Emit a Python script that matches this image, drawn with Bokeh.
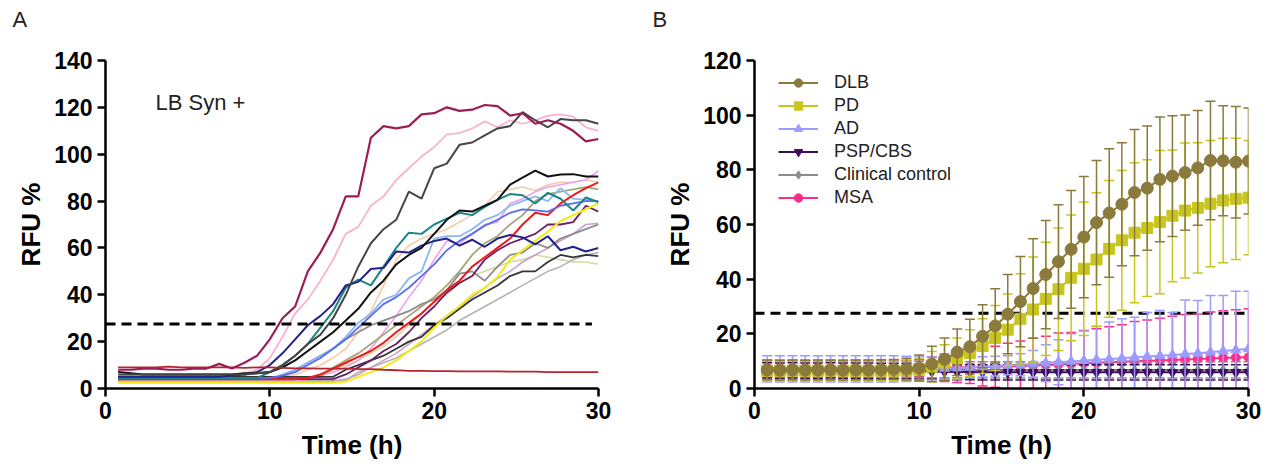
from bokeh.plotting import figure
from bokeh.layouts import row
from bokeh.models import Range1d, Label, Legend, LegendItem, FixedTicker, Title
from bokeh.embed import file_html
from bokeh.resources import INLINE

FONT = "Liberation Sans"

# ---------------- data ----------------
times = [0.77, 1.54, 2.31, 3.08, 3.85, 4.62, 5.38, 6.15, 6.92, 7.69, 8.46, 9.23, 10.0,
         10.77, 11.54, 12.31, 13.08, 13.85, 14.62, 15.38, 16.15, 16.92, 17.69, 18.46,
         19.23, 20.0, 20.77, 21.54, 22.31, 23.08, 23.85, 24.62, 25.38, 26.15, 26.92,
         27.69, 28.46, 29.23, 30.0]

threshold = 27.5
threshold_x_a = [0, 29.6]
threshold_x_b = [0, 29.8]

# Panel A: individual LB Syn + samples (RFU %)
a_crimson = [8, 8, 8.5, 8.5, 8, 8, 8.5, 8.5, 10.5, 8.5, 11, 14, 21, 30, 35, 50, 58, 68, 82, 82,
             107, 112, 111, 112, 117, 117.5, 120, 118.5, 119, 121, 120.5, 116.5, 117.5, 113, 114.5, 113, 110, 105.5, 106.5]
a_pink = [4, 4, 4, 4, 4, 4, 4.5, 4.5, 5, 5.5, 6.5, 8, 13, 22, 32, 38, 46, 55, 66, 69,
          78, 82, 89, 94, 99, 103, 108.5, 109, 111, 114, 111.5, 114.5, 113, 114.5, 116.5, 117, 116, 111.5, 110]
a_darkgray = [6, 6, 6, 6, 6, 6, 6, 6, 6, 6, 6, 6.5, 7, 10, 14, 19, 23, 30, 40, 52,
              62, 68, 72, 84, 81, 94, 96, 104, 105, 108, 111, 112, 118, 114.5, 111.5, 115, 114.5, 114.5, 113]
a_black = [7, 6.5, 6, 6, 6, 6, 6, 6, 6, 6, 6.5, 6.5, 7, 9, 12, 16, 20, 24, 29, 34,
           41, 46, 53, 57, 60, 66, 72, 76, 75.5, 78, 80.5, 87, 90, 93, 90.5, 91.3, 91.5, 90.5, 90.5]
a_navy = [5, 5, 5, 5, 5, 5, 5, 5, 5, 5.5, 6, 7, 10, 15, 21, 27, 31, 36, 44, 45.5,
          51, 51.5, 58.5, 58, 61, 63, 64, 61, 63.5, 60.5, 64, 65.5, 64.5, 61.5, 65, 59, 60.5, 58.5, 60]
a_teal = [4.5, 4.5, 4.5, 4.5, 4.5, 4.5, 4.5, 4.5, 4.5, 4.5, 4.5, 4.5, 7, 10, 14, 19, 26, 33, 43, 46.5,
          44, 52, 60, 66.5, 66, 70, 72.5, 75, 74, 77.5, 80.5, 83, 82.5, 79, 83.5, 81, 76, 81.5, 79.5]
a_lightblue = [4, 4, 4, 4, 4, 4, 4, 4, 4, 4, 4, 4, 4, 6, 8, 11, 14, 17, 22, 28,
               32, 38, 40, 47, 50, 64, 65, 65, 68, 72, 74, 78, 80, 82, 80, 85.5, 81, 80.5, 80]
a_medblue = [4.5, 4.5, 4.5, 4.5, 4.5, 4.5, 4.5, 4.5, 4.5, 4.5, 4.5, 4.5, 4.5, 5.5, 7, 10, 13, 17, 21, 26,
             31, 36, 39, 43, 48, 53, 59, 63, 66, 69.5, 72, 75, 76.5, 76, 75.5, 78, 79, 80, 80]
a_peach = [5, 5, 5, 5, 5, 5, 5, 5, 5, 5, 5, 5, 5, 5, 6, 8, 10, 13, 17, 24,
           33, 44, 55, 61, 64, 66, 68, 71, 74, 78, 84, 85, 86, 84.5, 87, 88, 88, 89, 88]
a_violet = [3, 3, 3, 3, 3, 3, 3, 3, 3, 3, 3, 3, 3, 3, 3, 4, 5.5, 7, 9, 12,
            17, 24, 31, 39, 46, 55, 63, 62, 66, 70, 71, 79, 81, 84, 86, 87, 88, 89, 93]
a_red = [4, 4, 4, 4, 4, 4, 4, 4, 4, 4, 4, 4, 4, 4, 4, 4.5, 6, 8.5, 11, 13.5,
         16, 19.5, 24, 28, 32, 37, 42, 46, 52, 56, 60, 64, 70, 75, 74, 79, 82.5, 85.5, 88]
a_yellow = [2.5, 2.5, 2.5, 2.5, 2.5, 2.5, 2.5, 2.5, 2.5, 2.5, 2.5, 2.5, 2.5, 2.5, 2.5, 2.5, 2.5, 2.5, 3, 5,
            7, 9, 12, 16, 20, 26, 31, 35, 40, 43, 47.5, 55, 59, 63, 67, 71.5, 74, 76.5, 79]
a_purple = [4, 4, 4, 4, 4, 4, 4, 4, 4, 4, 4, 4, 4, 4, 4, 4, 4, 4, 6, 9,
            12, 16, 19, 24, 30, 35, 41, 45, 48, 55, 59, 62, 64, 66, 70, 70, 71, 78, 75.5]
a_khaki = [5, 5, 5, 5, 5, 5, 5, 5, 5, 5, 5, 5, 5, 5, 5, 5, 5, 9, 12, 15,
           19, 23, 27, 31, 35, 39, 44, 50, 57, 62, 65, 70, 74, 80, 83, 84, 85, 86, 85]
a_gray = [5, 5, 5, 5, 5, 5, 5, 5, 5, 5, 5, 5, 5, 5, 8, 11, 14, 17, 21, 24,
          27, 29, 31, 33, 36, 38, 42, 49, 50, 46, 52, 57, 58, 62, 60, 64, 66, 68, 70]
a_darkgray2 = [5, 5, 5, 5, 5, 5, 5, 5, 5, 5, 5, 5, 5, 5, 5, 5, 5, 5, 8, 10,
               12, 14, 17, 20, 22, 27, 30, 34, 38, 41, 44, 48, 50, 50, 54, 57, 56, 57, 56.5]
a_lightgray = [3.5, 3.5, 3.5, 3.5, 3.5, 3.5, 3.5, 3.5, 3.5, 3.5, 3.5, 3.5, 3.5, 3.5, 3.5, 3.5, 3.5, 3.5, 3.5, 7,
               9, 11, 13, 16, 19, 22, 25, 29, 32, 35, 38, 41, 44, 47, 50, 52, 55, 57, 58]
a_mauve = [3, 3, 3, 3, 3, 3, 3, 3, 3, 3, 3, 3, 3, 3, 3, 3, 3, 3, 4, 6,
           9, 12, 15, 19, 23, 27, 31, 35, 39, 43, 47, 50, 54, 57, 60, 63, 66, 70, 70.5]
a_paleolive = [5, 5, 5, 5, 5, 5, 5, 5, 5, 5, 5, 5, 5, 5, 5, 5, 5, 8, 10, 12,
               15, 18, 22, 27, 32, 37, 40, 45, 48, 50, 52, 54, 55, 57, 56, 55, 54, 54, 53]
a_darkred = [9, 9, 9, 9, 9.3, 9, 9, 9, 9, 9, 8.8, 9, 9, 8.8, 8.6, 8.6, 8.5, 8.5, 8.5, 8.3,
             8.3, 8, 7.8, 7.5, 7.5, 7.4, 7.4, 7.3, 7.3, 7.3, 7.3, 7.2, 7.2, 7.2, 7, 7, 7, 7, 7]

panel_a_series = [
    (a_paleolive, "#d6d8a6", 1.6), (a_lightgray, "#b4b4b4", 1.6), (a_mauve, "#c9a3cc", 1.6),
    (a_peach, "#f6cba8", 1.6), (a_violet, "#eaa2ea", 1.6), (a_pink, "#f7b3d0", 1.8),
    (a_khaki, "#a9a37c", 1.8), (a_gray, "#8c8c8c", 1.8), (a_lightblue, "#8cb8f2", 1.8),
    (a_darkgray2, "#363636", 1.8), (a_purple, "#6a1f6a", 1.8), (a_yellow, "#f2ec10", 2.0),
    (a_red, "#f01818", 2.0), (a_medblue, "#5a6cf0", 1.8), (a_teal, "#1c8585", 2.0),
    (a_navy, "#22228a", 2.0), (a_black, "#111111", 2.0), (a_darkgray, "#454545", 2.0),
    (a_darkred, "#b3262e", 1.8), (a_crimson, "#9c1d55", 2.2),
]

# Panel B: group means and SD (RFU %)
groups = ["DLB", "PD", "AD", "PSP/CBS", "Clinical control", "MSA"]
dlb_mean = [6.8, 6.7, 6.8, 6.7, 6.8, 6.8, 6.7, 6.8, 6.8, 6.9, 7.0, 7.1, 7.5, 9.0, 10.7, 13.3, 15.3, 19.1, 22.9, 27.2,
            31.8, 36.6, 41.7, 46.4, 50.9, 55.4, 60.7, 64.2, 67.4, 71.7, 73.3, 76.5, 77.7, 79.0, 80.7, 83.4, 83.3, 82.8, 83.2]
dlb_sd = [3.6, 3.6, 3.6, 3.6, 3.6, 3.6, 3.6, 3.6, 3.6, 3.6, 3.6, 4.0, 4.8, 6.5, 7.8, 8.5, 10, 11.5, 13.6, 14.5,
          16.5, 18.2, 19.8, 20.8, 21.5, 22.2, 22.7, 23.5, 22.5, 23.1, 22.7, 22.8, 22.1, 21.1, 21.0, 21.7, 20.1, 20.4, 19.4]
pd_mean = [6.5, 6.5, 6.5, 6.5, 6.5, 6.5, 6.5, 6.5, 6.5, 6.5, 6.5, 6.6, 7.0, 8.0, 9.5, 11, 13, 15.5, 18.5, 21.5,
           25.5, 28.9, 32.8, 36.3, 40.5, 43.8, 47.2, 51.1, 54.2, 57.0, 58.7, 60.9, 63.2, 65.1, 66.1, 67.6, 68.8, 69.4, 69.8]
pd_sd = [3.5, 3.5, 3.5, 3.5, 3.5, 3.5, 3.5, 3.5, 3.5, 3.5, 3.5, 3.5, 4.0, 5.5, 6.5, 7.5, 8.5, 10, 11.9, 13.1,
         16.5, 19.2, 20.7, 22.4, 23.0, 24.4, 24.4, 25.0, 25.6, 25.6, 25.0, 26.2, 24.1, 24.7, 23.8, 23.1, 22.8, 22.2, 20.9]
ad_mean = [7.2, 7.2, 7.2, 7.2, 7.2, 7.2, 7.2, 7.2, 7.2, 7.2, 7.2, 7.2, 7.2, 7.3, 7.4, 7.5, 7.7, 7.9, 8.2, 8.5,
           8.7, 9.0, 9.3, 9.6, 9.9, 10.2, 10.5, 10.8, 11.1, 11.4, 11.7, 12.0, 12.3, 12.6, 12.9, 13.3, 13.7, 14.1, 14.5]
ad_sd = [4.8, 4.8, 4.8, 4.8, 4.8, 4.8, 4.8, 4.8, 4.8, 4.8, 4.8, 4.6, 4.5, 4.2, 4.0, 3.9, 3.8, 3.7, 3.6, 3.5,
         4.0, 4.9, 6.7, 8.2, 10.1, 10.8, 12.2, 13.5, 14.4, 14.7, 16.1, 16.5, 15.4, 19.8, 19.3, 20.7, 20.3, 21.5, 21.1]
psp_mean = [6.6, 6.5, 6.6, 6.5, 6.5, 6.6, 6.5, 6.5, 6.5, 6.4, 6.4, 6.4, 6.3, 6.2, 6.1, 6.0, 6.0, 5.9, 5.9, 5.9,
            5.9, 5.9, 5.9, 5.9, 5.9, 5.9, 5.9, 5.9, 5.9, 5.9, 5.9, 5.9, 5.9, 5.9, 5.9, 5.9, 5.9, 5.9, 5.9]
psp_sd = [2.8, 2.8, 2.8, 2.8, 2.8, 2.8, 2.8, 2.8, 2.8, 2.8, 2.8, 2.8, 2.8, 2.8, 2.8, 2.8, 2.8, 2.8, 2.8, 2.8,
          2.8, 2.8, 2.8, 2.8, 2.8, 2.8, 2.8, 2.8, 2.8, 2.8, 2.8, 2.8, 2.8, 2.8, 2.8, 2.8, 2.8, 2.8, 2.8]
cc_mean = [7.0, 7.0, 7.0, 7.0, 7.0, 7.0, 7.0, 7.0, 7.0, 7.0, 7.0, 7.0, 7.0, 6.9, 6.9, 6.9, 6.8, 6.8, 6.8, 6.8,
           6.8, 6.8, 6.8, 6.8, 6.8, 6.8, 6.8, 6.8, 6.8, 6.8, 6.8, 6.8, 6.8, 6.8, 6.8, 6.8, 6.8, 6.8, 6.8]
cc_sd = [3.0, 3.0, 3.0, 3.0, 3.0, 3.0, 3.0, 3.0, 3.0, 3.0, 3.0, 3.0, 3.0, 3.0, 3.0, 3.0, 3.0, 3.0, 3.0, 3.0,
         3.0, 3.0, 3.0, 3.0, 3.0, 3.0, 3.0, 3.0, 3.0, 3.0, 3.0, 3.0, 3.0, 3.0, 3.0, 3.0, 3.0, 3.0, 3.0]
msa_mean = [7.5, 7.5, 7.5, 7.5, 7.5, 7.5, 7.5, 7.5, 7.5, 7.5, 7.5, 7.5, 7.5, 7.5, 7.6, 7.7, 7.8, 7.9, 8.0, 8.1,
            8.2, 8.4, 8.6, 8.8, 9.0, 9.2, 9.4, 9.6, 9.8, 10.0, 10.1, 10.2, 10.4, 10.6, 10.8, 11.0, 11.2, 11.3, 11.4]
msa_sd = [2.8, 2.8, 2.8, 2.8, 2.8, 2.8, 2.8, 2.8, 2.8, 2.8, 2.8, 2.8, 3.0, 4.0, 5.0, 5.5, 6.0, 7.0, 7.5, 8.5,
          9.2, 10.0, 10.5, 11.5, 11.5, 12.0, 12.5, 13.0, 13.5, 14.5, 15.0, 15.5, 16.0, 16.5, 16.5, 17.0, 17.2, 17.5, 17.8]

group_data = {
    "DLB": (dlb_mean, dlb_sd, "#8a7a3c", "circle", 12),
    "PD": (pd_mean, pd_sd, "#c8c61e", "square", 11),
    "AD": (ad_mean, ad_sd, "#9d9bff", "triangle", 10),
    "PSP/CBS": (psp_mean, psp_sd, "#3e0c5c", "inverted_triangle", 10),
    "Clinical control": (cc_mean, cc_sd, "#8c8c8c", "diamond", 10),
    "MSA": (msa_mean, msa_sd, "#ff2d8a", "circle", 9),
}

for s in [v[0] for v in panel_a_series] + [v[0] for v in group_data.values()] + [v[1] for v in group_data.values()]:
    assert len(s) == len(times), len(s)


# ---------------- helpers ----------------
def style(p, yticks, panel_letter, letter_offset):
    p.xaxis.ticker = FixedTicker(ticks=[0, 10, 20, 30])
    p.yaxis.ticker = FixedTicker(ticks=yticks)
    for ax in (p.xaxis[0], p.yaxis[0]):
        ax.axis_line_width = 2.5
        ax.axis_line_color = "black"
        ax.major_tick_line_width = 2.5
        ax.major_tick_line_color = "black"
        ax.major_tick_out = 8
        ax.major_tick_in = 0
        ax.minor_tick_line_color = None
        ax.major_label_text_font = FONT
        ax.major_label_text_font_style = "bold"
        ax.major_label_text_font_size = "23px"
        ax.major_label_text_color = "black"
        ax.major_label_standoff = 5
        ax.axis_label_text_font = FONT
        ax.axis_label_text_font_style = "bold"
        ax.axis_label_text_font_size = "26px"
        ax.axis_label_text_color = "black"
    p.xaxis.axis_label = "Time (h)"
    p.yaxis.axis_label = "RFU %"
    p.xaxis.axis_label_standoff = 8
    p.yaxis.axis_label_standoff = 5
    p.xgrid.visible = False
    p.ygrid.visible = False
    p.outline_line_color = None
    p.background_fill_color = "white"
    p.border_fill_color = "white"
    # spacer between frame and the panel letter, then the letter itself (outermost)
    p.add_layout(Title(text=" ", text_font=FONT, text_font_size="22px", standoff=0), "above")
    p.add_layout(Title(text=panel_letter, align="left", offset=letter_offset, vertical_align="top",
                       standoff=0, text_font=FONT, text_font_style="normal", text_font_size="22px",
                       text_color="#222222"), "above")


# ---------------- panel A ----------------
pa = figure(title=None, width=645, height=467, x_range=Range1d(0, 30), y_range=Range1d(0, 140),
            output_backend="svg", toolbar_location=None,
            min_border_left=105, min_border_right=47, min_border_top=60, min_border_bottom=79)
style(pa, [0, 20, 40, 60, 80, 100, 120, 140], "A", -93)

for vals, col, lw in panel_a_series:
    pa.line(times, vals, line_color=col, line_width=lw)

pa.line(threshold_x_a, [threshold, threshold], line_color="black", line_width=3, line_dash="10 6")

pa.add_layout(Label(x=3.04, y=122.0, text="LB Syn +", text_font=FONT, text_font_size="22px",
                    text_color="#222222", text_baseline="alphabetic"))

# ---------------- panel B ----------------
pb = figure(title=None, width=623, height=467, x_range=Range1d(0, 30), y_range=Range1d(0, 120),
            output_backend="svg", toolbar_location=None,
            min_border_left=109, min_border_right=20, min_border_top=60, min_border_bottom=79)
style(pb, [0, 20, 40, 60, 80, 100, 120], "B", -102)

pb.line(threshold_x_b, [threshold, threshold], line_color="black", line_width=3, line_dash="10 6")

legend_items = {}
for name in reversed(groups):
    mean, sd, col, marker, size = group_data[name]
    upper = [m + s for m, s in zip(mean, sd)]
    lower = [m - s for m, s in zip(mean, sd)]
    pb.segment(x0=times, y0=lower, x1=times, y1=upper, line_color=col, line_width=1.5)
    pb.scatter(times, upper, marker="dash", size=10, line_color=col, line_width=1.5)
    pb.scatter(times, lower, marker="dash", size=10, line_color=col, line_width=1.5)
    lr = pb.line(times, mean, line_color=col, line_width=2)
    sr = pb.scatter(times, mean, marker=marker, size=size, fill_color=col, line_color=col)
    legend_items[name] = [lr, sr]

legend = Legend(items=[LegendItem(label=n, renderers=legend_items[n]) for n in groups],
                location=(24, 180), padding=0, margin=0, spacing=2,
                glyph_width=40, glyph_height=21, label_height=21, label_standoff=16,
                label_text_font=FONT, label_text_font_size="18px", label_text_color="#222222",
                border_line_color=None, background_fill_alpha=0)
pb.add_layout(legend)

layout = row(pa, pb)
open("out.html", "w").write(file_html(layout, INLINE))
